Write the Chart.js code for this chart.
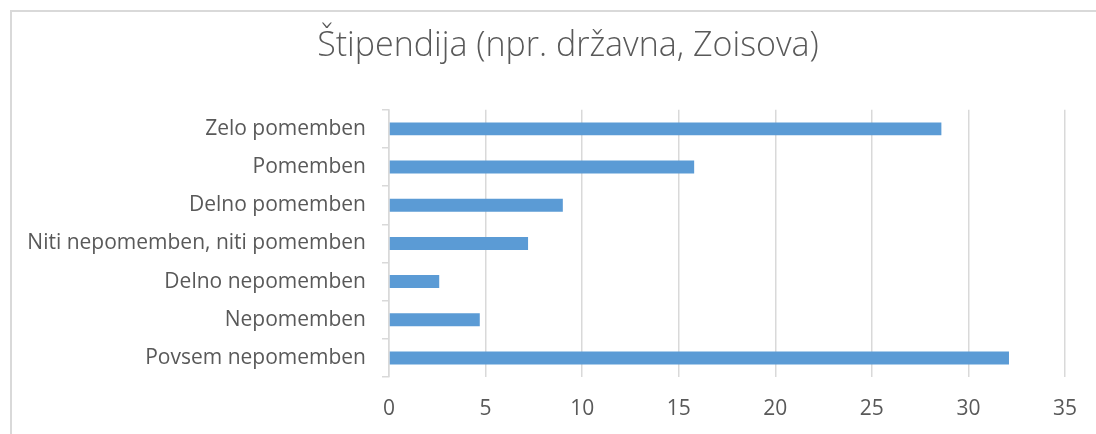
<!DOCTYPE html>
<html>
<head>
<meta charset="utf-8">
<script src="https://cdn.jsdelivr.net/npm/chart.js@4"></script>
<style>
  html, body { margin: 0; padding: 0; background: #fff; overflow: hidden; }
  #wrap { position: relative; width: 1096px; height: 434px; }
  #frame {
    position: absolute; left: 10px; top: 10px; width: 1200px; height: 600px;
    border-top: 2px solid #d9d9d9; border-left: 2px solid #d9d9d9;
  }
  canvas { position: absolute; left: 0; top: 0; }
</style>
</head>
<body>
<div id="wrap">
  <div id="frame"></div>
  <canvas id="chart" width="1096" height="434"></canvas>
</div>
<script>
const chartTitle = "Štipendija (npr. državna, Zoisova)";
const categories = [
  "Zelo pomemben",
  "Pomemben",
  "Delno pomemben",
  "Niti nepomemben, niti pomemben",
  "Delno nepomemben",
  "Nepomemben",
  "Povsem nepomemben",
];
const values = [28.6, 15.8, 9.0, 7.2, 2.6, 4.7, 32.1];
const xMin = 0;
const xMax = 35;
const xStep = 5;

const textColor = "#595959";
const gridColor = "#d9d9d9";
const fontFamily = "'Open Sans', 'Noto Sans', sans-serif";

Chart.defaults.font.family = fontFamily;
Chart.defaults.color = textColor;

// the title is centred on the whole framed box, not on the area left of the labels
const titleShift = {
  id: "titleShift",
  afterLayout(chart) {
    chart.titleBlock.left = 40;
    chart.titleBlock.right = 1096;
  }
};

new Chart(document.getElementById("chart"), {
  type: "bar",
  data: {
    labels: categories,
    datasets: [{
      data: values,
      backgroundColor: "#5b9bd5",
      borderWidth: 0,
      categoryPercentage: 1,
      barPercentage: 0.34,
    }]
  },
  options: {
    indexAxis: "y",
    responsive: false,
    animation: false,
    layout: { padding: { left: 10, right: 30, top: 0, bottom: 0 } },
    plugins: {
      legend: { display: false },
      tooltip: { enabled: false },
      title: {
        display: true,
        text: chartTitle,
        color: textColor,
        font: { size: 34, weight: "300", family: fontFamily },
        padding: { top: 26, bottom: 43 },
      }
    },
    scales: {
      x: {
        min: xMin,
        max: xMax,
        afterFit(scale) { scale.height = 57; },
        ticks: { stepSize: xStep, padding: 19, font: { size: 21 }, color: textColor },
        grid: { color: gridColor, lineWidth: 1.5, drawTicks: false },
        border: { display: false },
      },
      y: {
        afterFit(scale) { scale.width = 379; },
        ticks: { padding: 16, font: { size: 21 }, color: textColor },
        grid: { drawOnChartArea: false, drawTicks: true, tickLength: 7, color: gridColor, lineWidth: 1.5 },
        border: { display: true, color: gridColor, width: 1.5 },
      }
    }
  },
  plugins: [titleShift]
});
</script>
</body>
</html>
